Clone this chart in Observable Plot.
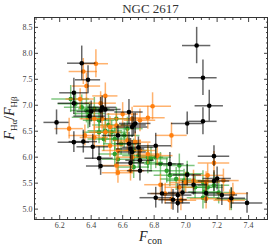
<!DOCTYPE html>
<html><head><meta charset="utf-8">
<script src="https://cdn.jsdelivr.net/npm/d3@7"></script>
<script src="https://cdn.jsdelivr.net/npm/@observablehq/plot@0.6"></script>
<style>body{margin:0;background:#fff} svg{display:block}</style>
</head><body><div id="chart"></div>
<script>
// Black series
const blackX    = [6.18,6.29,6.29,6.34,6.38,6.40,6.39,6.46,6.49,6.64,6.67,6.66,7.01,7.11,7.15,7.07,7.11,6.29,6.35,6.41,6.45,6.46,6.57,6.64,6.65,6.66,6.70,6.81,6.65,6.71,6.71,6.90,7.18,7.01,7.05,6.98,6.81,6.85,6.92,6.95,6.95,7.18,7.20,7.13,7.23,7.29,7.39,6.47,6.68];
const blackY    = [6.67,7.24,7.04,7.81,7.49,6.88,6.79,6.90,6.92,6.87,6.62,6.58,6.65,6.69,6.99,8.15,7.53,6.29,6.30,6.20,5.98,5.83,6.42,6.26,6.16,6.10,6.19,6.22,5.89,5.94,5.74,5.87,6.02,5.66,5.47,5.32,5.22,5.30,5.18,5.12,5.27,5.54,5.59,5.31,5.27,5.21,5.12,6.96,6.65];
const blackXerr = [0.08,0.09,0.10,0.09,0.08,0.09,0.10,0.09,0.10,0.09,0.08,0.10,0.10,0.09,0.09,0.09,0.09,0.10,0.09,0.10,0.09,0.09,0.10,0.08,0.09,0.09,0.10,0.10,0.09,0.09,0.08,0.09,0.10,0.09,0.09,0.09,0.10,0.09,0.09,0.08,0.09,0.10,0.09,0.09,0.10,0.09,0.10,0.09,0.10];
const blackYerr = [0.24,0.28,0.22,0.33,0.27,0.20,0.22,0.25,0.22,0.24,0.22,0.20,0.22,0.26,0.30,0.35,0.34,0.20,0.22,0.24,0.22,0.18,0.20,0.22,0.20,0.22,0.20,0.24,0.20,0.22,0.20,0.22,0.20,0.20,0.20,0.22,0.20,0.20,0.20,0.20,0.22,0.20,0.22,0.20,0.20,0.20,0.20,0.22,0.20];

// Orange series
const orangeX    = [6.43,6.35,6.37,6.49,6.33,6.46,6.79,6.76,6.26,6.91,6.36,6.42,6.49,6.56,6.71,6.52,6.57,6.63,6.68,6.56,6.57,6.66,6.71,6.76,7.18,7.14,7.13,7.24,7.00,6.96,6.84,6.87,6.97,7.05,7.13,7.28,7.30,6.47,6.60,6.52,6.42,6.82,6.65,6.66,6.91];
const orangeY    = [7.80,7.65,7.37,7.18,7.12,7.04,6.98,6.76,6.55,6.42,6.42,6.38,6.48,6.61,6.71,6.22,6.13,6.32,6.29,5.84,5.70,6.00,6.13,6.06,5.89,5.65,5.52,5.55,5.51,5.42,5.47,5.30,5.17,5.55,5.20,5.17,5.30,6.74,6.83,6.58,6.74,6.03,5.74,6.74,5.19];
const orangeXerr = [0.08,0.09,0.09,0.08,0.09,0.10,0.12,0.11,0.09,0.10,0.10,0.09,0.10,0.10,0.10,0.09,0.10,0.09,0.10,0.09,0.10,0.09,0.10,0.09,0.10,0.10,0.09,0.10,0.10,0.09,0.10,0.09,0.10,0.10,0.10,0.10,0.10,0.10,0.10,0.09,0.09,0.10,0.09,0.10,0.10];
const orangeYerr = [0.27,0.25,0.25,0.25,0.20,0.22,0.26,0.22,0.20,0.24,0.20,0.22,0.20,0.22,0.22,0.22,0.20,0.22,0.20,0.20,0.20,0.22,0.20,0.20,0.22,0.22,0.20,0.22,0.20,0.20,0.20,0.20,0.20,0.20,0.20,0.20,0.20,0.22,0.22,0.20,0.22,0.20,0.20,0.22,0.20];

// Green series
const greenX    = [6.27,6.30,6.34,6.37,6.42,6.38,6.45,6.51,6.49,6.53,6.55,6.61,6.59,6.67,6.70,6.76,6.78,6.81,6.57,6.55,6.84,6.88,6.96,6.90,6.94,7.01,6.99,7.11,7.12,7.18,7.21,7.06,6.45,6.48,6.39,6.56,6.63,7.29,6.76,6.67,7.14,7.11];
const greenY    = [7.12,7.03,6.96,6.90,6.93,6.77,6.71,6.62,6.51,6.48,6.35,6.42,6.26,6.13,6.03,6.00,5.97,6.00,5.96,6.06,5.87,5.74,5.84,5.65,5.58,5.68,5.55,5.52,5.33,5.46,5.32,5.42,6.48,6.35,6.84,6.74,6.55,5.19,5.90,5.81,5.42,5.22];
const greenXerr = [0.12,0.11,0.11,0.10,0.10,0.10,0.10,0.10,0.11,0.10,0.10,0.10,0.11,0.10,0.10,0.10,0.11,0.10,0.10,0.10,0.10,0.11,0.10,0.10,0.10,0.10,0.11,0.10,0.10,0.10,0.10,0.11,0.10,0.10,0.10,0.10,0.10,0.10,0.10,0.10,0.10,0.10];
const greenYerr = [0.26,0.24,0.24,0.24,0.22,0.22,0.24,0.22,0.24,0.22,0.22,0.24,0.22,0.22,0.24,0.22,0.22,0.22,0.24,0.22,0.22,0.24,0.22,0.22,0.22,0.24,0.22,0.22,0.22,0.24,0.22,0.22,0.22,0.24,0.22,0.22,0.22,0.22,0.22,0.22,0.22,0.22];

// Ticks
const xMajor = [6.2,6.4,6.6,6.8,7.0,7.2,7.4];
const xMinor = [6.05,6.1,6.15,6.25,6.3,6.35,6.45,6.5,6.55,6.65,6.7,6.75,6.85,6.9,6.95,7.05,7.1,7.15,7.25,7.3,7.35,7.45,7.5];
const yMajor = [5.0,5.5,6.0,6.5,7.0,7.5,8.0,8.5];
const yMinor = [4.9,5.1,5.2,5.3,5.4,5.6,5.7,5.8,5.9,6.1,6.2,6.3,6.4,6.6,6.7,6.8,6.9,7.1,7.2,7.3,7.4,7.6,7.7,7.8,7.9,8.1,8.2,8.3,8.4,8.6];

const titleText = "NGC 2617";

const series = [
  {color:"#2ca02c", barOpacity:0.6, x:greenX, y:greenY, ex:greenXerr, ey:greenYerr},
  {color:"#ff7f0e", barOpacity:0.6, x:orangeX, y:orangeY, ex:orangeXerr, ey:orangeYerr},
  {color:"#000000", barOpacity:0.6, x:blackX, y:blackY, ex:blackXerr, ey:blackYerr}
];

const marks = [];
for (const s of series) {
  const data = s.x.map((x, i) => ({x, y: s.y[i], ex: s.ex[i], ey: s.ey[i]}));
  marks.push(Plot.ruleY(data, {y:"y", x1:d => d.x - d.ex, x2:d => d.x + d.ex, stroke:s.color, strokeOpacity:s.barOpacity, strokeWidth:1.5}));
  marks.push(Plot.ruleX(data, {x:"x", y1:d => d.y - d.ey, y2:d => d.y + d.ey, stroke:s.color, strokeOpacity:s.barOpacity, strokeWidth:1.5}));
  marks.push(Plot.dot(data, {x:"x", y:"y", r:2.3, fill:s.color, stroke:"none"}));
}
const noText = () => "";
const tickColor = "#444";
marks.push(
  Plot.axisX(xMinor, {anchor:"bottom", tickSize:-2, tickFormat:noText, label:null, stroke:tickColor}),
  Plot.axisX(xMinor, {anchor:"top", tickSize:-2, tickFormat:noText, label:null, stroke:tickColor}),
  Plot.axisX(xMajor, {anchor:"bottom", tickSize:-4, tickFormat:noText, label:null, stroke:tickColor}),
  Plot.axisX(xMajor, {anchor:"top", tickSize:-4, tickFormat:noText, label:null, stroke:tickColor}),
  Plot.axisX(xMajor, {anchor:"bottom", tickSize:0, tickPadding:3, tickFormat:d => d.toFixed(1), label:null, fontSize:8, fill:"#444"}),
  Plot.axisY(yMinor, {anchor:"left", tickSize:-2, tickFormat:noText, label:null, stroke:tickColor}),
  Plot.axisY(yMinor, {anchor:"right", tickSize:-2, tickFormat:noText, label:null, stroke:tickColor}),
  Plot.axisY(yMajor, {anchor:"left", tickSize:-4, tickFormat:noText, label:null, stroke:tickColor}),
  Plot.axisY(yMajor, {anchor:"right", tickSize:-4, tickFormat:noText, label:null, stroke:tickColor}),
  Plot.axisY(yMajor, {anchor:"left", tickSize:0, tickPadding:2, tickFormat:d => d.toFixed(1), label:null, fontSize:8, fill:"#444"}),
  Plot.frame({stroke:"#333", strokeWidth:1})
);

const plot = Plot.plot({
  width: 274, height: 248,
  marginLeft: 34, marginRight: 7, marginTop: 17, marginBottom: 29,
  style: {fontFamily: "Liberation Serif", background: "#fff"},
  x: {domain: [6.04, 7.52]},
  y: {domain: [4.80, 8.69]},
  marks
});

const svg = d3.select(plot);
const frameL = 34, frameR = 274 - 7, frameT = 17, frameB = 248 - 29;
svg.append("text").attr("x", (frameL + frameR) / 2).attr("y", 13)
  .attr("text-anchor", "middle").attr("font-size", 13).attr("fill", "#333")
  .attr("font-weight", "normal")
  .attr("font-family", "Liberation Serif").text(titleText);

const xl = svg.append("text").attr("x", (frameL + frameR) / 2).attr("y", 241)
  .attr("text-anchor", "middle").attr("font-size", 14).attr("fill", "#222")
  .attr("font-family", "Liberation Serif");
xl.append("tspan").attr("font-style", "italic").text("F");
xl.append("tspan").attr("font-size", 10).attr("dy", 3).text("con");

const yl = svg.append("text")
  .attr("transform", `translate(14,${(frameT + frameB) / 2}) rotate(-90)`)
  .attr("text-anchor", "middle").attr("font-size", 14).attr("fill", "#222")
  .attr("font-family", "Liberation Serif");
yl.append("tspan").attr("font-style", "italic").text("F");
yl.append("tspan").attr("font-size", 9).attr("dy", 3).text("Hα");
yl.append("tspan").attr("dy", -3).text("/");
yl.append("tspan").attr("font-style", "italic").text("F");
yl.append("tspan").attr("font-size", 9).attr("dy", 3).text("Hβ");

document.getElementById("chart").appendChild(plot);
</script>
</body></html>
